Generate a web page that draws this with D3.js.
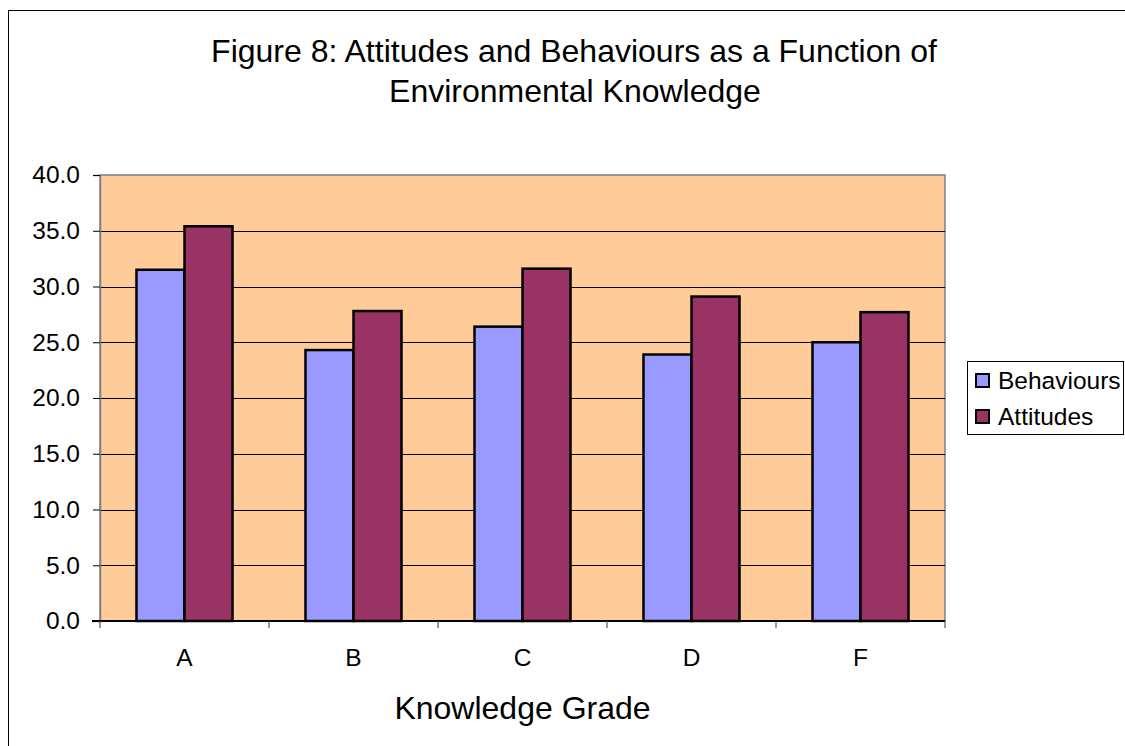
<!DOCTYPE html>
<html>
<head>
<meta charset="utf-8">
<script src="https://cdn.jsdelivr.net/npm/d3@7"></script>
<style>
  body { margin: 0; background: #fff; }
  svg { display: block; font-family: "Liberation Sans", Arial, sans-serif; }
</style>
</head>
<body>
<svg width="1125" height="746"></svg>
<script>
// data
var grades = ["A", "B", "C", "D", "F"];
var seriesNames = ["Behaviours", "Attitudes"];
var behaviours = [31.5, 24.3, 26.4, 23.9, 25.0];
var attitudes = [35.4, 27.8, 31.6, 29.1, 27.7];
var yTicks = [0, 5, 10, 15, 20, 25, 30, 35, 40];
var colors = ["#9999ff", "#993366"];

var svg = d3.select("svg");

// outer chart border (runs off the right/bottom edge)
svg.append("rect")
    .attr("x", 8.5).attr("y", 10.5)
    .attr("width", 1130).attr("height", 760)
    .attr("fill", "none").attr("stroke", "#000").attr("stroke-width", 1);

var plot = {left: 100, top: 175, right: 945, bottom: 621};

var x0 = d3.scaleBand().domain(grades).range([plot.left, plot.right]).padding(0);
var x1 = d3.scaleBand().domain(seriesNames).range([0, x0.bandwidth()])
    .paddingInner(0).paddingOuter(0.76);
var y = d3.scaleLinear().domain([0, 40]).range([plot.bottom, plot.top]);

// plot background
svg.append("rect")
    .attr("x", plot.left).attr("y", plot.top)
    .attr("width", plot.right - plot.left).attr("height", plot.bottom - plot.top)
    .attr("fill", "#ffcc99").attr("stroke", "#808080").attr("stroke-width", 1.5);

// gridlines
svg.append("g").selectAll("line")
    .data(yTicks.filter(function(d) { return d > 0 && d < 40; }))
    .enter().append("line")
    .attr("x1", plot.left).attr("x2", plot.right)
    .attr("y1", function(d) { return Math.round(y(d)) + 0.5; })
    .attr("y2", function(d) { return Math.round(y(d)) + 0.5; })
    .attr("stroke", "#000").attr("stroke-width", 1.2);

// bars
var table = grades.map(function(g, i) {
  return {grade: g, values: [behaviours[i], attitudes[i]]};
});

svg.append("g").selectAll("g")
    .data(table)
    .enter().append("g")
    .attr("transform", function(d) { return "translate(" + x0(d.grade) + ",0)"; })
    .selectAll("rect")
    .data(function(d) { return d.values.map(function(v, k) { return {name: seriesNames[k], value: v, k: k}; }); })
    .enter().append("rect")
    .attr("x", function(d) { return x1(d.name); })
    .attr("width", x1.bandwidth())
    .attr("y", function(d) { return y(d.value); })
    .attr("height", function(d) { return y(0) - y(d.value); })
    .attr("fill", function(d) { return colors[d.k]; })
    .attr("stroke", "#000").attr("stroke-width", 2.5);

// y axis
var yAxis = svg.append("g")
    .attr("transform", "translate(" + plot.left + ",0)")
    .call(d3.axisLeft(y).tickValues(yTicks).tickSize(7).tickPadding(13)
      .tickFormat(d3.format(".1f")));
yAxis.select(".domain").attr("stroke", "#808080").attr("stroke-width", 1.5);
yAxis.selectAll(".tick line").attr("stroke", "#000");
yAxis.selectAll("text").attr("font-size", 24.5).attr("fill", "#000")
    .attr("font-family", "Liberation Sans, Arial, sans-serif");

// x axis
var xTickPos = d3.range(grades.length + 1).map(function(i) { return plot.left + i * x0.step(); });
var xg = svg.append("g");
xg.append("line")
    .attr("x1", plot.left - 8).attr("x2", plot.right)
    .attr("y1", plot.bottom).attr("y2", plot.bottom)
    .attr("stroke", "#000").attr("stroke-width", 2);
xg.selectAll(".xt").data(xTickPos).enter().append("line")
    .attr("x1", function(d) { return d; }).attr("x2", function(d) { return d; })
    .attr("y1", plot.bottom).attr("y2", plot.bottom + 7)
    .attr("stroke", "#555").attr("stroke-width", 1.2);
xg.selectAll("text").data(grades).enter().append("text")
    .attr("x", function(d) { return x0(d) + x0.bandwidth() / 2; })
    .attr("y", 666)
    .attr("text-anchor", "middle")
    .attr("font-size", 24.5)
    .text(function(d) { return d; });

// axis title
svg.append("text")
    .attr("x", (plot.left + plot.right) / 2).attr("y", 719)
    .attr("text-anchor", "middle").attr("font-size", 32)
    .text("Knowledge Grade");

// title
var title = svg.append("text").attr("text-anchor", "middle").attr("font-size", 32);
title.append("tspan").attr("x", 574).attr("y", 62).text("Figure 8: Attitudes and Behaviours as a Function of");
title.append("tspan").attr("x", 575).attr("y", 102).text("Environmental Knowledge");

// legend
var legend = svg.append("g");
legend.append("rect")
    .attr("x", 967.5).attr("y", 361.5).attr("width", 156).attr("height", 73)
    .attr("fill", "#fff").attr("stroke", "#000").attr("stroke-width", 1);
var items = legend.selectAll(".item").data(seriesNames).enter().append("g")
    .attr("transform", function(d, i) { return "translate(976," + (374 + i * 36) + ")"; });
items.append("rect")
    .attr("width", 13).attr("height", 13)
    .attr("fill", function(d, i) { return colors[i]; })
    .attr("stroke", "#000").attr("stroke-width", 2);
items.append("text")
    .attr("x", 22).attr("y", 15)
    .attr("font-size", 24.5)
    .text(function(d) { return d; });
</script>
</body>
</html>
